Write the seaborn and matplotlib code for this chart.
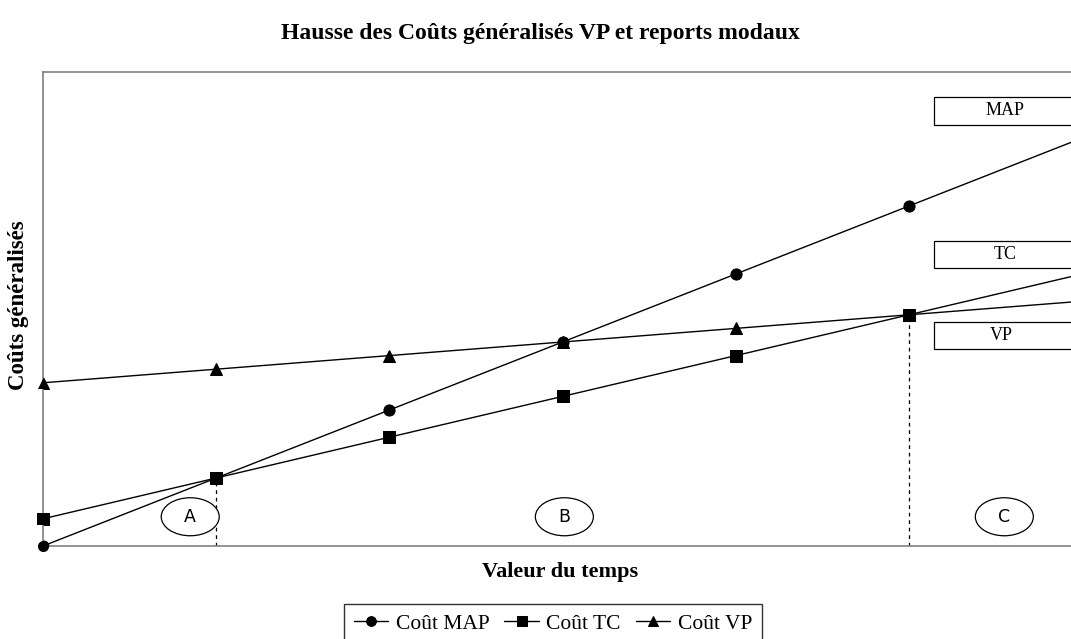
import numpy as np
import pandas as pd
import matplotlib
matplotlib.use("Agg")
import matplotlib.pyplot as plt
from matplotlib.patches import Ellipse, Rectangle
import seaborn as sns

sns.set_theme(style="white")
plt.rcParams['font.family'] = ['Liberation Serif', 'DejaVu Serif']
plt.rcParams['text.color'] = 'black'

# ---- data ----
valeur_temps = [0, 1, 2, 3, 4, 5, 6]
cout_map = [0, 10, 20, 30, 40, 50, 60]
cout_tc = [4, 10, 16, 22, 28, 34, 40]
cout_vp = [24, 26, 28, 30, 32, 34, 36]
series_labels = ["Coût MAP", "Coût TC", "Coût VP"]
zone_labels = ["A", "B", "C"]
mode_labels = ["MAP", "TC", "VP"]

XMAX = 5.935

fig = plt.figure(figsize=(10.71, 6.39), dpi=100)
ax = fig.add_axes([43/1071, 1-546/639, 1-43/1071, (546-72)/639])

markers = ['o', 's', '^']
for vals, lab, m in zip([cout_map, cout_tc, cout_vp], series_labels, markers):
    df = pd.DataFrame({"x": valeur_temps, "y": vals})
    sns.lineplot(data=df, x="x", y="y", ax=ax, color="black", linewidth=1,
                 marker=m, markersize=8, markeredgecolor="black",
                 markerfacecolor="black", label=lab)
    # unclipped markers for the points inside the visible range
    inside = df[df["x"] <= XMAX]
    sns.scatterplot(data=inside, x="x", y="y", ax=ax, marker=m, s=64,
                    color="black", edgecolor="black", linewidth=0,
                    clip_on=False, zorder=4, legend=False)

ax.set_xlim(0, XMAX)
ax.set_ylim(0, 69.7)
ax.set_xticks([])
ax.set_yticks([])

for s in ["left", "bottom", "top"]:
    ax.spines[s].set_color("#808080")
    ax.spines[s].set_linewidth(1.2)
ax.spines["right"].set_visible(False)

# dashed vertical separators at crossings
ax.plot([1, 1], [0, cout_map[1]], ls=(0, (3, 3)), color="black", lw=0.9)
ax.plot([5, 5], [0, cout_tc[5]], ls=(0, (3, 3)), color="black", lw=0.9)

# zone ellipses
for cx, lab in zip([0.85, 3.01, 5.55], zone_labels):
    e = Ellipse((cx, 4.3), width=58/173.2, height=38/6.8, facecolor="white",
                edgecolor="black", lw=0.9, zorder=5)
    ax.add_patch(e)
    ax.text(cx, 4.3, lab, ha="center", va="center", fontsize=12.5,
            family="DejaVu Sans", color="black", zorder=6)

# mode boxes on the right
for (yb, yt, tx), lab in zip([(97, 125, 1005), (241, 268, 1005), (322, 349, 1001)], mode_labels):
    y0 = (546 - yt) / 6.8
    h = (yt - yb) / 6.8
    r = Rectangle(((934-43)/173.2, y0), 2.0, h, facecolor="white",
                  edgecolor="black", lw=0.9, zorder=5)
    ax.add_patch(r)
    ax.text((tx-43)/173.2, y0 + h/2, lab, ha="center", va="center",
            fontsize=13, color="black", zorder=6)

ax.set_xlabel("")
ax.set_ylabel("")
fig.text(560/1071, 1-572/639, "Valeur du temps", ha="center", va="center",
         fontsize=16, fontweight="bold", color="black")
fig.text(19/1071, 1-305/639, "Coûts généralisés", ha="center", va="center",
         fontsize=16.5, fontweight="bold", rotation=90, color="black")
fig.text(540/1071, 1-34/639, "Hausse des Coûts généralisés VP et reports modaux",
         ha="center", va="center", fontsize=17, fontweight="bold", color="black")

if ax.legend_:
    ax.legend_.remove()
handles, labels = ax.get_legend_handles_labels()
leg = fig.legend(handles, labels, loc="upper center", bbox_to_anchor=(553/1071, 1-604/639),
                 ncol=3, frameon=True, fancybox=False, fontsize=15.5,
                 handlelength=1.6, handletextpad=0.35, columnspacing=0.7,
                 borderpad=0.45, borderaxespad=0, edgecolor="black")
leg.get_frame().set_linewidth(1.0)
for t in leg.get_texts():
    t.set_color("black")
for h in leg.legend_handles:
    h.set_markersize(7)

fig.savefig("out.png", dpi=100, facecolor="white")
